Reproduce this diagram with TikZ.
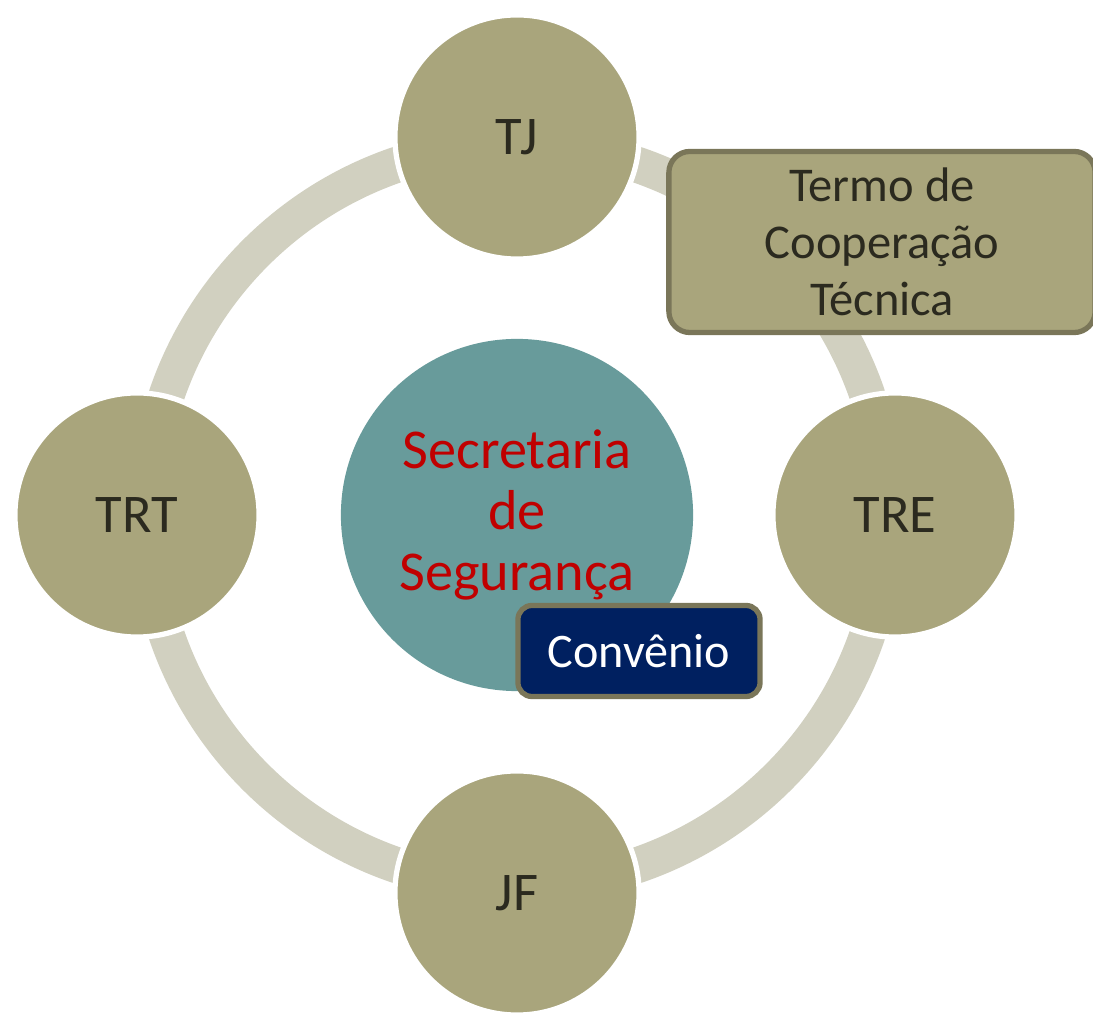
\documentclass[tikz,border=0pt]{standalone}
\usepackage{fontspec}
\setmainfont{Carlito}
\usetikzlibrary{positioning}
\definecolor{orgao}{HTML}{A9A57C}
\definecolor{anel}{HTML}{D1D0C0}
\definecolor{secret}{HTML}{689B9B}
\definecolor{vermelho}{HTML}{C00000}
\definecolor{marinho}{HTML}{002060}
\definecolor{borda}{HTML}{7A7659}
\definecolor{texto}{HTML}{2B2A1F}

\begin{document}
\begin{tikzpicture}[x=0.01cm,y=-0.01cm,
  orgao/.style={circle,fill=orgao,draw=white,line width=1.5pt,minimum size=2.44cm,
    text=texto,font=\fontsize{15.5}{18}\selectfont},
  caixa/.style={rounded corners=6pt,draw=borda,line width=1.5pt,align=center}]
\useasboundingbox (0,0) rectangle (1093,1013);

% Anel
\coordinate (hub) at (517,515);
\draw[anel,line width=0.36cm] (hub) circle (3.7cm);

% Orgaos
\node[orgao] (tj)  at (517,137) {TJ};
\node[orgao] (trt) at (137,515) {TRT};
\node[orgao] (tre) at (895,515) {TRE};
\node[orgao] (jf)  at (517,893) {JF};

% Centro
\node[circle,fill=secret,minimum size=3.52cm,align=center,text=vermelho,
  font=\fontsize{16}{17.4}\selectfont] (sec) at (hub) {Secretaria\\de\\Segurança};

% Caixas
\node[caixa,fill=orgao,text=texto,minimum width=4.26cm,minimum height=1.81cm,
  font=\fontsize{13.8}{16.2}\selectfont] (termo) at (882,242) {Termo de\\Cooperação\\Técnica};
\node[caixa,rounded corners=4pt,fill=marinho,text=white,minimum width=2.42cm,minimum height=0.91cm,
  font=\fontsize{13.7}{16}\selectfont] (conv) at (639,651) {Convênio};
\end{tikzpicture}
\end{document}
